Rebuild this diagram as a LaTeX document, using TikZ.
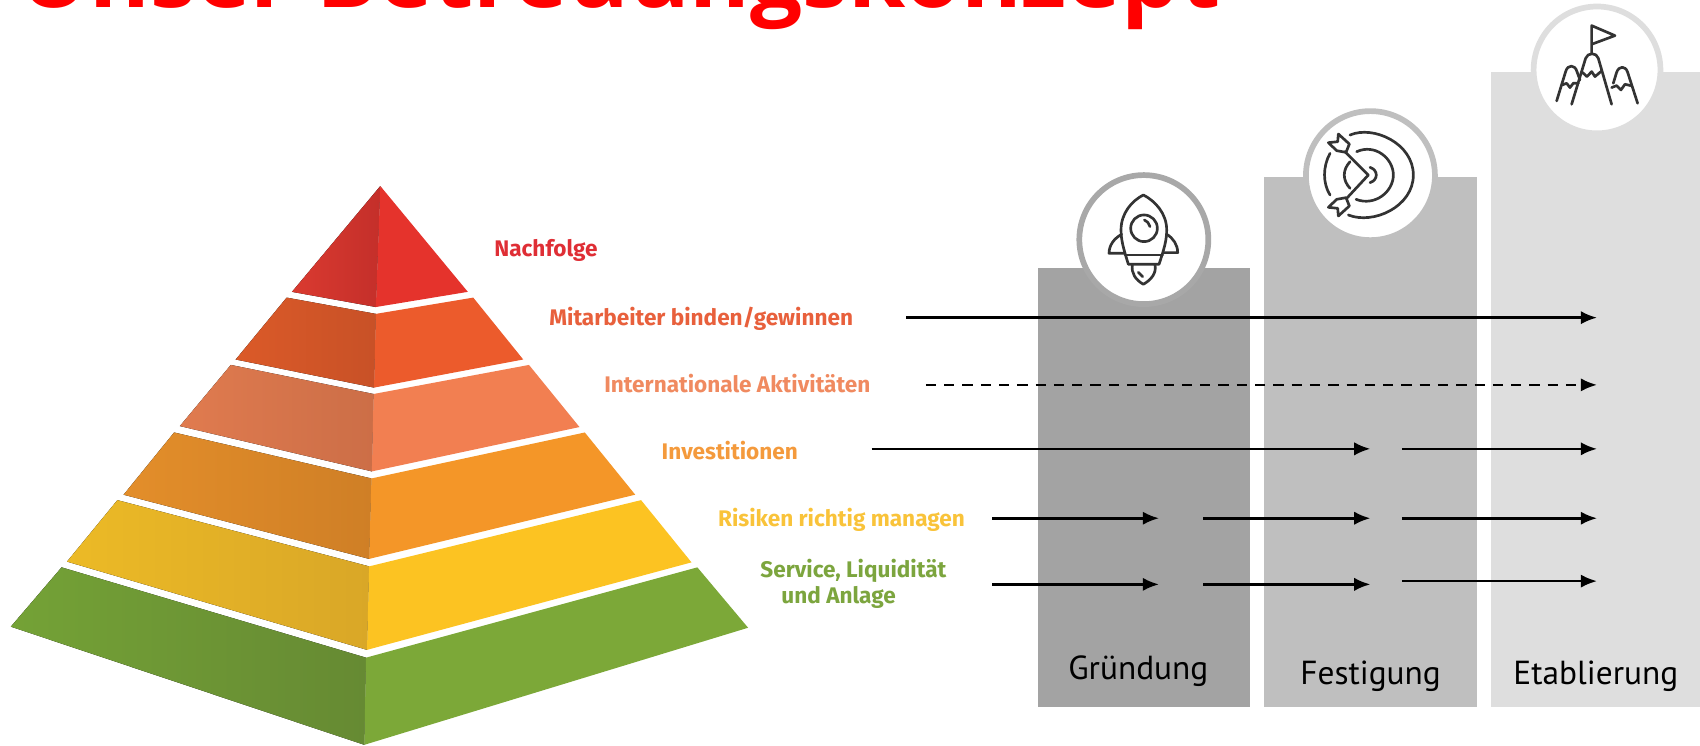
\documentclass[tikz,border=0pt]{standalone}
\usepackage{fontspec}
\setmainfont{Fira Sans}
\newfontfamily\titlefont{Open Sans}
\newfontfamily\stagefont{PT Sans}
\usetikzlibrary{arrows.meta}
\definecolor{t1}{HTML}{DF2E35}
\definecolor{t2}{HTML}{E8603C}
\definecolor{t3}{HTML}{F08A60}
\definecolor{t4}{HTML}{F49A3C}
\definecolor{t5}{HTML}{F9C33A}
\definecolor{t6}{HTML}{7CA53E}
\definecolor{iconc}{HTML}{333333}
\definecolor{la}{HTML}{DA3A30}\definecolor{lb}{HTML}{C42F2A}\definecolor{ra}{HTML}{E5332C}
\definecolor{lc}{HTML}{DB5A28}\definecolor{ld}{HTML}{C85127}\definecolor{rb}{HTML}{EC5B2C}
\definecolor{le}{HTML}{E07B4F}\definecolor{lf}{HTML}{CC6E47}\definecolor{rc}{HTML}{F27F51}
\definecolor{lg}{HTML}{E38E2A}\definecolor{lh}{HTML}{CF7F26}\definecolor{rd}{HTML}{F49628}
\definecolor{li}{HTML}{ECBA26}\definecolor{lj}{HTML}{D9A727}\definecolor{re}{HTML}{FCC322}
\definecolor{lk}{HTML}{74A236}\definecolor{ll}{HTML}{668A33}\definecolor{rf}{HTML}{7CA838}
\definecolor{barA}{HTML}{A3A3A3}\definecolor{barB}{HTML}{BFBFBF}\definecolor{barC}{HTML}{DEDEDE}
\definecolor{ringA}{HTML}{A8A8A8}
\tikzset{
  lab/.style={anchor=base west,inner sep=0pt,font=\bfseries\fontsize{11.85}{13}\selectfont},
  stage/.style={anchor=base west,inner sep=0pt,text=black,font=\stagefont\fontsize{17.5}{20}\selectfont},
  conn/.style={line width=1.35pt,-{Latex[length=8.5pt,width=7pt]}},
  ring/.style={fill=white,line width=3pt},
  icon/.style={draw=iconc,line width=1.4pt,line join=round,line cap=round},
}
\begin{document}
\begin{tikzpicture}[x=0.02cm,y=-0.02cm]
\useasboundingbox (0,0) rectangle (1568,688);
% title
\node[anchor=base west,inner sep=0pt,text=red,font=\titlefont\bfseries\fontsize{48.5}{52}\selectfont] (title) at (18,7) {Unser Betreuungskonzept};
% pyramid: left and right face of each layer
\fill[left color=la,right color=lb] (350.8,171.6) -- (269.3,269.2) -- (346.7,283.2) -- cycle;
\fill[ra] (350.8,171.6) -- (431.5,269.2) -- (346.7,283.2) -- cycle;
\fill[left color=lc,right color=ld] (264.4,274.5) -- (346.7,289.5) -- (345,357.5) -- (217.4,331.6) -- cycle;
\fill[rb] (346.7,289.5) -- (436.5,274.5) -- (482.6,331.6) -- (345,357.5) -- cycle;
\fill[left color=le,right color=lf] (212.9,336.6) -- (344.6,363.4) -- (343,434.8) -- (165.9,393) -- cycle;
\fill[rc] (344.6,363.4) -- (487.9,336.6) -- (534.5,393.9) -- (343,434.8) -- cycle;
\fill[left color=lg,right color=lh] (160.6,398.9) -- (342.6,441.3) -- (340.5,515.5) -- (114,456.3) -- cycle;
\fill[rd] (342.6,441.3) -- (539.4,398.9) -- (585.9,456.3) -- (340.5,515.5) -- cycle;
\fill[left color=li,right color=lj] (108.3,461.3) -- (340.5,522.4) -- (338.5,599.4) -- (61.8,518) -- cycle;
\fill[re] (340.5,522.4) -- (591.3,461.3) -- (637.8,518.7) -- (338.5,599.4) -- cycle;
\fill[left color=lk,right color=ll] (56.8,523.3) -- (337.6,606.6) -- (336,687) -- (10,578) -- cycle;
\fill[rf] (337.6,606.6) -- (643.2,523.3) -- (690,579) -- (336,687) -- cycle;
% labels
\node[lab,text=t1] (l1) at (455.6,237) {Nachfolge};
\node[lab,text=t2] (l2) at (506.4,299.8) {Mitarbeiter binden/gewinnen};
\node[lab,text=t3] (l3) at (557,361.6) {Internationale Aktivitäten};
\node[lab,text=t4] (l4) at (610,423.7) {Investitionen};
\node[lab,text=t5] (l5) at (662,485.2) {Risiken richtig managen};
\node[lab,text=t6] (l6) at (701,533) {Service, Liquidität};
\node[lab,text=t6] (l7) at (720.4,556.9) {und Anlage};
% stage bars
\fill[barA] (957,247) rectangle (1153,652);
\fill[barB] (1166,163) rectangle (1362,652);
\fill[barC] (1375,66) rectangle (1568,652);
\node[stage] (s1) at (985,627) {Gründung};
\node[stage] (s2) at (1199,631) {Festigung};
\node[stage] (s3) at (1395.6,631) {Etablierung};
% circles
\draw[ring,draw=ringA] (1055,221) circle (59.5);
\draw[ring,draw=barB] (1264,162) circle (59.5);
\draw[ring,draw=barC] (1473,64.5) circle (58.5);
% rocket
\begin{scope}[shift={(1010,170.6)},x=0.006149cm,y=-0.006149cm]
\draw[icon] (145,30) .. controls (110,48) and (78,85) .. (78,135) .. controls (78,165) and (85,190) .. (100,238) -- (192,238) .. controls (208,190) and (215,165) .. (215,135) .. controls (215,85) and (180,48) .. (145,30) -- cycle;
\draw[icon] (90,210) -- (203,210);
\draw[icon] (147,130) circle (40);
\draw[icon] (148,105) .. controls (156,108) and (162,115) .. (165,125);
\draw[icon] (80,148) .. controls (58,160) and (42,180) .. (42,205) -- (88,205);
\draw[icon] (215,148) .. controls (235,160) and (248,180) .. (248,203) -- (205,203);
\draw[icon] (112,240) .. controls (108,265) and (122,285) .. (145,298) .. controls (168,285) and (185,265) .. (180,240);
\draw[icon] (130,262) -- (143,275);
\end{scope}
% target
\begin{scope}[shift={(1208.3,110.7)},x=0.006149cm,y=-0.006149cm]
\draw[icon] (120,45) .. controls (190,15) and (310,70) .. (310,165) .. controls (310,260) and (190,315) .. (115,285);
\draw[icon] (60,100) .. controls (38,140) and (38,190) .. (60,225);
\draw[icon] (140,95) .. controls (195,70) and (250,115) .. (250,165) .. controls (250,215) and (195,260) .. (138,238);
\draw[icon] (120,125) .. controls (97,150) and (97,180) .. (120,205);
\draw[icon] (180,142) .. controls (205,150) and (205,180) .. (180,188);
\draw[icon] (105,95) -- (175,165) -- (110,235);
\draw[icon] (55,68) -- (83,65) -- (85,42) -- (118,72) -- (108,97) -- (80,92) -- cycle;
\draw[icon] (55,262) -- (83,265) -- (85,288) -- (118,258) -- (108,233) -- (80,238) -- cycle;
\end{scope}
% mountains
\begin{scope}[shift={(1425,13.8)},x=0.006149cm,y=-0.006149cm]
\draw[icon] (140,115) -- (140,32) -- (210,62) -- (140,88);
\draw[icon] (80,268) -- (122,130) .. controls (128,112) and (155,112) .. (160,130) -- (200,268);
\draw[icon] (112,172) -- (126,185) -- (140,170) -- (150,185) -- (170,168);
\draw[icon] (35,258) -- (62,170) .. controls (68,148) and (90,148) .. (96,170) -- (105,195);
\draw[icon] (52,210) -- (65,205) -- (75,218) -- (85,205) -- (100,205);
\draw[icon] (205,205) -- (215,172) .. controls (222,152) and (242,152) .. (248,172) -- (278,265);
\draw[icon] (200,218) -- (215,212) -- (228,225) -- (240,208) -- (257,212);
\end{scope}
% connector end points
\coordinate (a2) at (836,293);   \coordinate (b2) at (1473,293);
\coordinate (a3) at (854,355);   \coordinate (b3) at (1473,355);
\coordinate (a4) at (804,414);   \coordinate (b4) at (1264,414);
\coordinate (c4) at (1293,414);  \coordinate (d4) at (1473,414);
\coordinate (a5) at (915,478);   \coordinate (b5) at (1069,478);
\coordinate (c5) at (1110,478);  \coordinate (d5) at (1264,478);
\coordinate (e5) at (1293,478);  \coordinate (f5) at (1473,478);
\coordinate (a6) at (915,539);   \coordinate (b6) at (1069,539);
\coordinate (c6) at (1110,539);  \coordinate (d6) at (1264,539);
\coordinate (e6) at (1293,536);  \coordinate (f6) at (1473,536);
\draw[conn] (a2) -- (b2);
\draw[conn,dash pattern=on 5.4pt off 4.2pt] (a3) -- (b3);
\draw[conn] (a4) -- (b4);
\draw[conn] (c4) -- (d4);
\draw[conn] (a5) -- (b5);
\draw[conn] (c5) -- (d5);
\draw[conn] (e5) -- (f5);
\draw[conn] (a6) -- (b6);
\draw[conn] (c6) -- (d6);
\draw[conn] (e6) -- (f6);
\end{tikzpicture}
\end{document}
